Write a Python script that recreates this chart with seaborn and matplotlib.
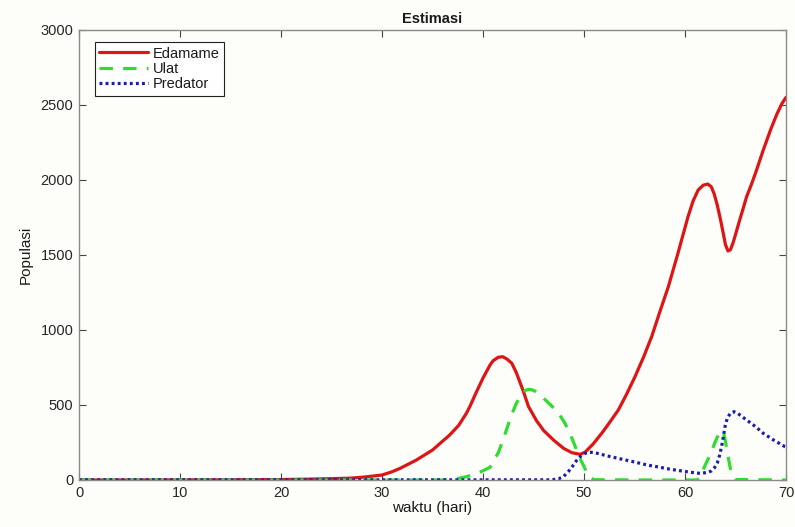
import matplotlib
matplotlib.use("Agg")
import matplotlib.pyplot as plt
import seaborn as sns

# Simulated population over time (days)
edamame_t = [0, 5, 10, 15, 20, 23, 25, 26.8, 28, 30, 31, 31.8, 33.4, 35, 36.7,
             37.6, 38.35, 38.7, 39.3, 40.0, 40.7, 41.0, 41.5, 41.95, 42.4,
             42.85, 43.3, 43.7, 44.0, 44.5, 45.3, 46.0, 47.0, 48.0, 48.8, 49.6,
             50.1, 50.9, 51.75, 52.6, 53.4, 54.2, 55.05, 55.9, 56.7, 57.5,
             58.35, 59.3, 60.3, 60.8, 61.3, 61.8, 62.25, 62.6, 62.9, 63.2,
             63.5, 63.8, 64.0, 64.25, 64.5, 64.8, 65.1, 65.4, 65.8, 66.1, 66.6,
             67.0, 67.75, 68.5, 69.1, 69.6, 70]
edamame_n = [0, 0, 0.5, 1, 3, 6, 9, 12, 18, 33, 55, 78, 133, 200, 300,
             365, 444, 490, 580, 680, 767, 795, 818, 822, 805,
             778, 715, 644, 590, 490, 395, 330, 265, 210, 182, 171,
             185, 240, 311, 390, 467, 570, 689, 820, 956, 1120,
             1289, 1511, 1756, 1860, 1933, 1965, 1973, 1955, 1905, 1830,
             1740, 1640, 1570, 1527, 1535, 1590, 1660, 1730, 1820, 1889, 1975,
             2050, 2200, 2340, 2440, 2510, 2551]

ulat_t = [0, 10, 20, 30, 36, 36.7, 37.5, 38.35, 39.5, 40.7, 41.5, 42.0, 42.35,
          42.8, 43.3, 43.8, 44.2, 44.5, 44.9, 45.2, 46.0, 46.7, 47.2, 47.6,
          48.1, 48.6, 49.0, 49.4, 49.7, 50.0, 50.3, 50.6, 51.0, 55, 61.2,
          61.5, 62.0, 62.5, 63.0, 63.4, 63.6, 63.8, 64.0, 64.2, 64.45, 64.7,
          65.0, 70]
ulat_n = [0, 0, 0, 0, 0, 3, 10, 22, 45, 85, 180, 270, 340,
          430, 511, 570, 598, 604, 600, 590, 545, 500, 465, 433,
          380, 311, 245, 178, 130, 90, 44, 15, 2, 0, 0,
          20, 100, 170, 256, 315, 330, 320, 260, 180, 89, 25,
          3, 0]

predator_t = [0, 10, 20, 30, 40, 46.5, 47.0, 47.5, 48.0, 48.45, 48.9, 49.3,
              49.7, 50.1, 50.5, 50.9, 51.5, 52.2, 53, 54, 55, 56.25, 57.5,
              58.5, 59.5, 60.5, 61.5, 62.2, 62.6, 62.9, 63.2, 63.45, 63.7,
              63.96, 64.2, 64.5, 64.85, 65.2, 65.6, 66.1, 67.0, 67.75, 68.8,
              69.9, 70]
predator_n = [1, 1, 1, 1, 1, 1, 3, 8, 25, 56, 95, 133,
              160, 178, 185, 184, 175, 162, 150, 135, 120, 100, 85,
              72, 62, 52, 44, 50, 60, 80, 115, 170, 250,
              356, 415, 445, 455, 445, 425, 400, 355, 311, 265,
              222, 220]

x_ticks = [0, 10, 20, 30, 40, 50, 60, 70]
y_ticks = [0, 500, 1000, 1500, 2000, 2500, 3000]

sns.set_theme(style="white")
plt.rcParams["font.family"] = ["Liberation Sans", "DejaVu Sans"]

bg = "#fdfdf9"
fig = plt.figure(figsize=(7.95, 5.27), dpi=100, facecolor=bg)
ax = fig.add_axes([0.0994, 0.0892, 0.8893, 0.8539], facecolor=bg)

lw = 2.3
sns.lineplot(x=edamame_t, y=edamame_n, ax=ax, color="#dd1515", lw=lw,
             label="Edamame", estimator=None)
sns.lineplot(x=ulat_t, y=ulat_n, ax=ax, color="#2fdc2f", lw=lw,
             label="Ulat", estimator=None)
sns.lineplot(x=predator_t, y=predator_n, ax=ax, color="#1c1cae", lw=lw,
             label="Predator", estimator=None)

ax.lines[0].set_solid_joinstyle("round")
ax.lines[1].set_dashes([4.2, 3.2])
ax.lines[2].set_dashes([0.9, 1.0])

ax.set_xlim(0, 70)
ax.set_ylim(0, 3000)
ax.set_xticks(x_ticks)
ax.set_yticks(y_ticks)

for s in ax.spines.values():
    s.set_visible(True)
    s.set_color("#8a8a8a")
    s.set_linewidth(1.0)

ax.tick_params(axis="both", which="both", direction="in", length=5,
               width=0.8, color="#444444", labelsize=10.5,
               labelcolor="#262626", top=True, right=True,
               bottom=True, left=True, pad=4)

ax.set_title("Estimasi", fontsize=10.5, fontweight="bold", color="#1a1a1a",
             pad=5)
ax.set_xlabel("waktu (hari)", fontsize=11, color="#1a1a1a", labelpad=1)
ax.set_ylabel("Populasi", fontsize=11, color="#1a1a1a", labelpad=6)

leg = ax.legend(loc="upper left", bbox_to_anchor=(0.0226, 0.973),
                borderaxespad=0, fontsize=10.5, handlelength=3.3,
                handletextpad=0.35, labelspacing=0.1, borderpad=0.3,
                fancybox=False, framealpha=1, edgecolor="#222222")
leg.get_frame().set_linewidth(0.8)
leg.get_frame().set_facecolor("#ffffff")
for t in leg.get_texts():
    t.set_color("#1a1a1a")

fig.savefig("out.png", dpi=100, facecolor=bg)
